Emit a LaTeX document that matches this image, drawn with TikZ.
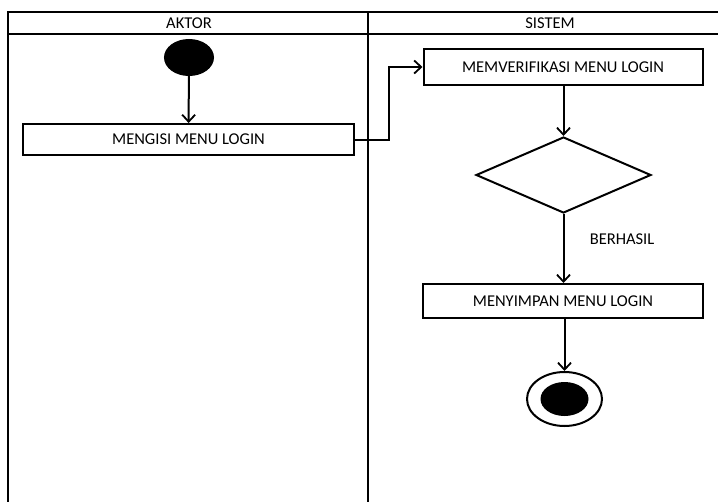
\documentclass[tikz,border=0pt]{standalone}
\usepackage{fontspec}
\setmainfont{Carlito}
\usetikzlibrary{arrows.meta,shapes.geometric}
\begin{document}
\begin{tikzpicture}[x=1pt,y=-1pt,
  line width=2pt,
  act/.style={draw,rectangle,minimum height=31pt,inner sep=0pt,font=\fontsize{16.5}{19}\selectfont},
  lbl/.style={font=\fontsize{16.5}{19}\selectfont},
  flow/.style={-{Straight Barb[length=7pt,width=13pt,line width=1.8pt]}},
]
\useasboundingbox (0,0) rectangle (718,501);
\begin{scope}
\clip (0,0) rectangle (718,501);
% swimlane frame
\draw (8,12) rectangle (740,520);
\draw (8,34) -- (740,34);
\draw (368,12) -- (368,520);
\end{scope}
\node[lbl] (laneA) at (189,23) {AKTOR};
\node[lbl] (laneS) at (550,23) {SISTEM};

% activity nodes
\node[draw,fill=black,ellipse,minimum width=48pt,minimum height=35pt,inner sep=0pt] (start) at (189,57.5) {};
\node[act,minimum width=331pt,minimum height=31pt] (isi) at (188.5,139.5) {MENGISI MENU LOGIN};
\node[act,minimum width=279pt,minimum height=36pt] (verif) at (563,67) {MEMVERIFIKASI MENU LOGIN};
\node[draw,diamond,minimum width=175pt,minimum height=76pt,inner sep=0pt,aspect=2.3] (dec) at (563.5,175) {};
\node[act,minimum width=280pt,minimum height=34pt] (simpan) at (563,301) {MENYIMPAN MENU LOGIN};
\node[draw,ellipse,minimum width=75pt,minimum height=54pt,inner sep=0pt] (end) at (564.5,399) {};
\node[fill=black,ellipse,minimum width=48pt,minimum height=34pt,inner sep=0pt] (endin) at (end.center) {};

% flows
\draw[flow] (start) -- (isi);
\draw[flow] (isi.east) -- ++(34,0) |- (verif.west);
\draw[flow] (verif.south -| dec.north) -- (dec.north);
\draw[flow] (dec.south) -- (dec.south |- simpan.north) node[lbl,pos=0.36,right=22pt] (ok) {BERHASIL};
\draw[flow] (simpan.south -| end.north) -- (end.north);
\end{tikzpicture}
\end{document}
